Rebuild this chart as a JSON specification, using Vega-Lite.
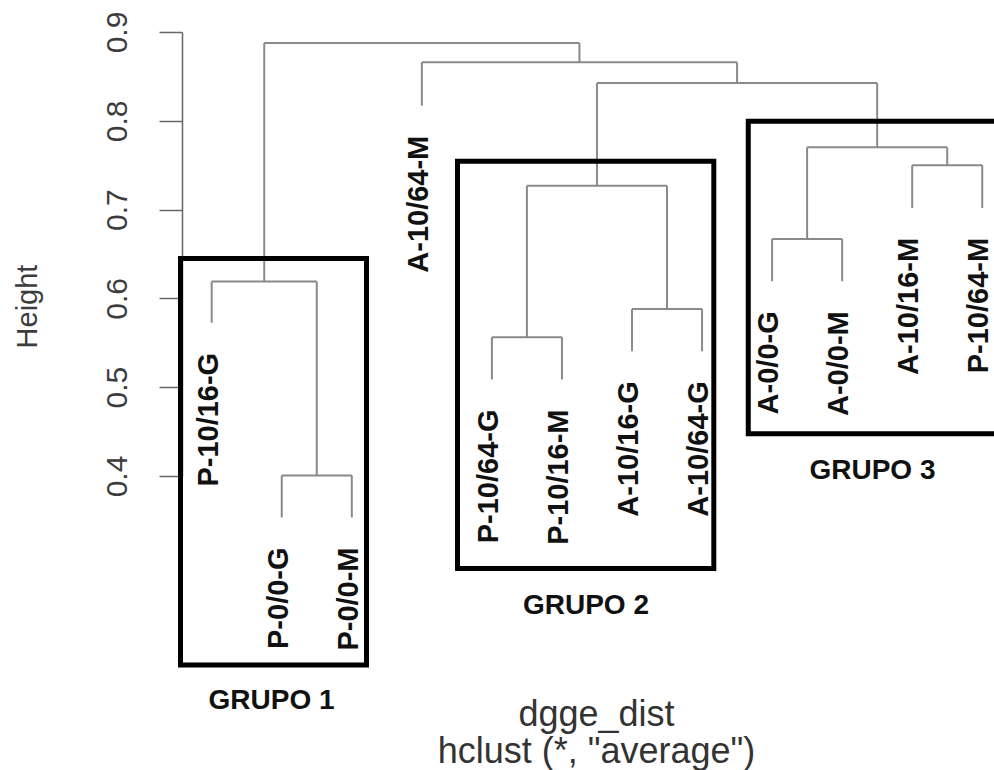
{
  "$schema": "https://vega.github.io/schema/vega-lite/v6.json",
  "autosize": "none",
  "width": 812,
  "height": 444,
  "padding": {"left": 182, "top": 32, "right": 0, "bottom": 294},
  "background": "white",
  "config": {"view": {"stroke": null}},
  "datasets": {
    "segments": [
      {"pos": 2, "pos2": 3, "height": 0.4006, "height2": 0.4006},
      {"pos": 2, "pos2": 2, "height": 0.3533, "height2": 0.4006},
      {"pos": 3, "pos2": 3, "height": 0.3533, "height2": 0.4006},
      {"pos": 1, "pos2": 2.5, "height": 0.619, "height2": 0.619},
      {"pos": 1, "pos2": 1, "height": 0.5725, "height2": 0.619},
      {"pos": 2.5, "pos2": 2.5, "height": 0.4006, "height2": 0.619},
      {"pos": 5, "pos2": 6, "height": 0.5563, "height2": 0.5563},
      {"pos": 5, "pos2": 5, "height": 0.5087, "height2": 0.5563},
      {"pos": 6, "pos2": 6, "height": 0.5087, "height2": 0.5563},
      {"pos": 7, "pos2": 8, "height": 0.588, "height2": 0.588},
      {"pos": 7, "pos2": 7, "height": 0.5405, "height2": 0.588},
      {"pos": 8, "pos2": 8, "height": 0.5405, "height2": 0.588},
      {"pos": 5.5, "pos2": 7.5, "height": 0.7268, "height2": 0.7268},
      {"pos": 5.5, "pos2": 5.5, "height": 0.5563, "height2": 0.7268},
      {"pos": 7.5, "pos2": 7.5, "height": 0.588, "height2": 0.7268},
      {"pos": 9, "pos2": 10, "height": 0.667, "height2": 0.667},
      {"pos": 9, "pos2": 9, "height": 0.6193, "height2": 0.667},
      {"pos": 10, "pos2": 10, "height": 0.6193, "height2": 0.667},
      {"pos": 11, "pos2": 12, "height": 0.7499, "height2": 0.7499},
      {"pos": 11, "pos2": 11, "height": 0.7019, "height2": 0.7499},
      {"pos": 12, "pos2": 12, "height": 0.7019, "height2": 0.7499},
      {"pos": 9.5, "pos2": 11.5, "height": 0.7701, "height2": 0.7701},
      {"pos": 9.5, "pos2": 9.5, "height": 0.667, "height2": 0.7701},
      {"pos": 11.5, "pos2": 11.5, "height": 0.7499, "height2": 0.7701},
      {"pos": 6.5, "pos2": 10.5, "height": 0.8426, "height2": 0.8426},
      {"pos": 6.5, "pos2": 6.5, "height": 0.7268, "height2": 0.8426},
      {"pos": 10.5, "pos2": 10.5, "height": 0.7701, "height2": 0.8426},
      {"pos": 4, "pos2": 8.5, "height": 0.8658, "height2": 0.8658},
      {"pos": 4, "pos2": 4, "height": 0.817, "height2": 0.8658},
      {"pos": 8.5, "pos2": 8.5, "height": 0.8426, "height2": 0.8658},
      {"pos": 1.75, "pos2": 6.25, "height": 0.8876, "height2": 0.8876},
      {"pos": 1.75, "pos2": 1.75, "height": 0.619, "height2": 0.8876},
      {"pos": 6.25, "pos2": 6.25, "height": 0.8658, "height2": 0.8876}
    ],
    "leaves": [
      {"pos": 1, "label": "P-10/16-G", "height": 0.5725},
      {"pos": 2, "label": "P-0/0-G", "height": 0.3533},
      {"pos": 3, "label": "P-0/0-M", "height": 0.3533},
      {"pos": 4, "label": "A-10/64-M", "height": 0.817},
      {"pos": 5, "label": "P-10/64-G", "height": 0.5087},
      {"pos": 6, "label": "P-10/16-M", "height": 0.5087},
      {"pos": 7, "label": "A-10/16-G", "height": 0.5405},
      {"pos": 8, "label": "A-10/64-G", "height": 0.5405},
      {"pos": 9, "label": "A-0/0-G", "height": 0.6193},
      {"pos": 10, "label": "A-0/0-M", "height": 0.6193},
      {"pos": 11, "label": "A-10/16-M", "height": 0.7019},
      {"pos": 12, "label": "P-10/64-M", "height": 0.7019}
    ],
    "boxes": [
      {"group": "GRUPO 1", "pos": 0.5546, "pos2": 3.2098, "height": 0.6449, "height2": 0.1873},
      {"group": "GRUPO 2", "pos": 4.509, "pos2": 8.168, "height": 0.7544, "height2": 0.2957},
      {"group": "GRUPO 3", "pos": 8.66, "pos2": 12.25, "height": 0.7994, "height2": 0.4477}
    ],
    "groupLabels": [
      {"group": "GRUPO 1", "pos": 1.854, "height": 0.1373},
      {"group": "GRUPO 2", "pos": 6.343, "height": 0.2443},
      {"group": "GRUPO 3", "pos": 10.433, "height": 0.3963}
    ]
  },
  "encoding": {
    "x": {
      "field": "pos", "type": "quantitative",
      "scale": {"domain": [0.576, 12.168], "nice": false, "zero": false},
      "axis": {
        "domain": false, "ticks": false, "labels": false, "grid": false,
        "title": ["dgge_dist", "hclust (*, \"average\")"],
        "titleFont": "Liberation Sans", "titleFontSize": 36, "titleFontWeight": "normal",
        "titleColor": "#333", "titleX": 414, "titleY": 249,
        "titleAlign": "center", "titleBaseline": "alphabetic", "titleLineHeight": 37
      }
    },
    "y": {
      "field": "height", "type": "quantitative",
      "scale": {"domain": [0.4, 0.9], "nice": false, "zero": false},
      "axis": {
        "values": [0.4, 0.5, 0.6, 0.7, 0.8, 0.9],
        "grid": false,
        "domainColor": "#666", "domainWidth": 1.5,
        "tickColor": "#666", "tickWidth": 1.5, "tickSize": 23,
        "labelAngle": -90, "labelAlign": "center", "labelBaseline": "alphabetic",
        "labelPadding": 33, "labelFont": "Liberation Sans", "labelFontSize": 30,
        "labelColor": "#3c3c3c", "labelFlush": false, "labelOverlap": false, "labelBound": false,
        "title": "Height",
        "titleFont": "Liberation Sans", "titleFontSize": 29, "titleFontWeight": "normal",
        "titleColor": "#3c3c3c", "titleAngle": -90, "titleX": -146, "titleY": 274,
        "titleAlign": "center", "titleBaseline": "alphabetic"
      }
    }
  },
  "layer": [
    {
      "data": {"name": "segments"},
      "mark": {"type": "rule", "color": "#8a8a8a", "strokeWidth": 2},
      "encoding": {
        "x2": {"field": "pos2"},
        "y2": {"field": "height2"}
      }
    },
    {
      "data": {"name": "boxes"},
      "mark": {"type": "rect", "filled": false, "stroke": "#000", "strokeWidth": 5},
      "encoding": {
        "x2": {"field": "pos2"},
        "y2": {"field": "height2"}
      }
    },
    {
      "data": {"name": "groupLabels"},
      "mark": {"type": "text", "font": "Liberation Sans", "fontWeight": "bold", "fontSize": 28, "align": "center", "baseline": "alphabetic", "color": "#111"},
      "encoding": {
        "text": {"field": "group"}
      }
    },
    {
      "data": {"name": "leaves"},
      "mark": {"type": "text", "angle": 270, "align": "right", "baseline": "middle", "dx": -30, "dy": -3, "font": "Liberation Sans", "fontWeight": "bold", "fontSize": 29, "color": "#111"},
      "encoding": {
        "text": {"field": "label"}
      }
    }
  ]
}
